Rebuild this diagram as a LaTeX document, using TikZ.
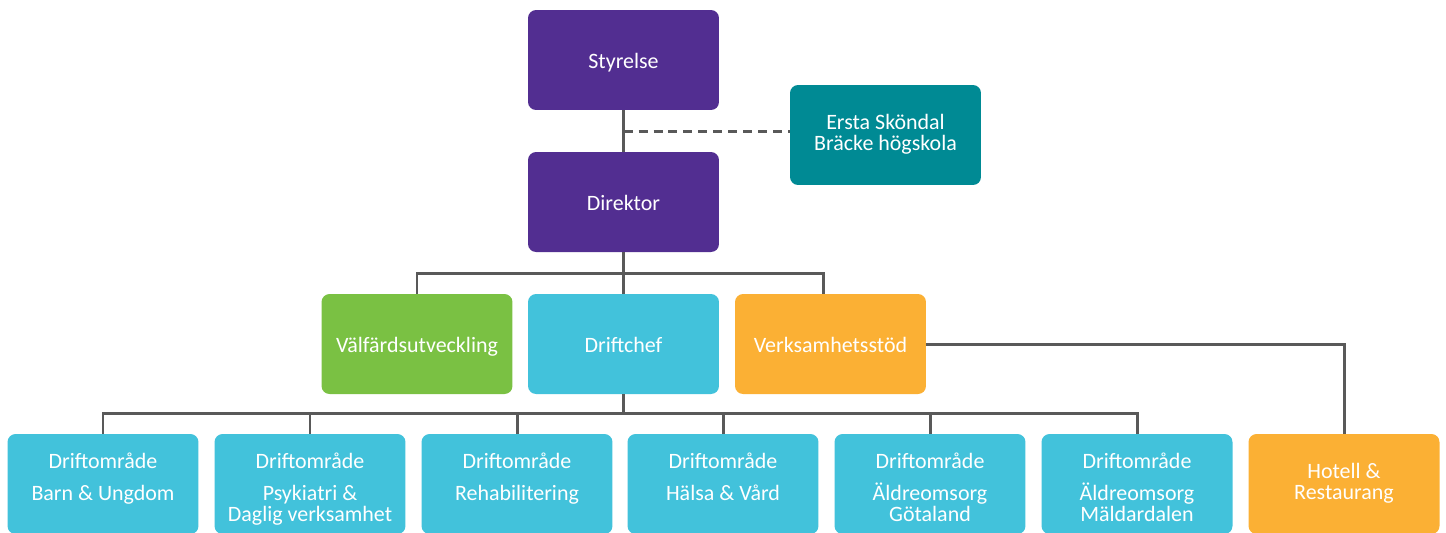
\documentclass[tikz,border=0pt]{standalone}
\usepackage{fontspec}
\setmainfont{Carlito}
\usetikzlibrary{calc}

\definecolor{lila}{RGB}{82,46,145}
\definecolor{petrol}{RGB}{0,138,148}
\definecolor{gron}{RGB}{122,193,67}
\definecolor{ljusbla}{RGB}{66,194,219}
\definecolor{gul}{RGB}{251,176,52}
\definecolor{linje}{RGB}{89,89,89}

\newcommand{\omrade}[1]{\parbox[t][1.4cm][t]{3.7cm}{\centering Driftområde\\[0.23cm]#1}}

\tikzset{
  box/.style={rounded corners=0.16cm, minimum width=3.82cm, minimum height=2cm,
    inner sep=0pt, text=white, align=center, font=\fontsize{12.5}{11.9}\selectfont,
    execute at begin node={\rule[-2.6pt]{0pt}{15.4pt}}},
  link/.style={draw=linje, line width=1.7pt},
}

\begin{document}
\begin{tikzpicture}[x=0.02cm, y=-0.02cm]
    \useasboundingbox (0,0) rectangle (1446,532);
    \clip (0,0) rectangle (1446,532);

    \node[box, fill=lila] (STY) at (623.5,60) {Styrelse};
    \node[box, fill=petrol] (ESB) at (885.5,135) {Ersta Sköndal\\Bräcke högskola};
    \node[box, fill=lila] (DIR) at (623.5,202) {Direktor};
    \node[box, fill=gron] (VAL) at (417,344) {Välfärdsutveckling};
    \node[box, fill=ljusbla] (DRC) at (623.5,344) {Driftchef};
    \node[box, fill=gul] (VST) at (830.5,344) {Verksamhetsstöd};
    \node[box, fill=ljusbla] (BU) at (103,484) {\omrade{Barn \& Ungdom}};
    \node[box, fill=ljusbla] (PD) at (310,484) {\omrade{Psykiatri \&\\Daglig verksamhet}};
    \node[box, fill=ljusbla] (RE) at (517,484) {\omrade{Rehabilitering}};
    \node[box, fill=ljusbla] (HV) at (723,484) {\omrade{Hälsa \& Vård}};
    \node[box, fill=ljusbla] (AG) at (930,484) {\omrade{Äldreomsorg\\Götaland}};
    \node[box, fill=ljusbla] (AM) at (1137,484) {\omrade{Äldreomsorg\\Mäldardalen}};
    \node[box, fill=gul] (HR) at (1344,484) {Hotell \&\\Restaurang};

    \coordinate (MID) at ($(STY.south)!0.5!(DIR.north)$);
    \draw[link] (STY) -- (DIR);
    \draw[link, dash pattern=on 0.18cm off 0.12cm] (MID) -- (MID -| ESB.west);

    \draw[link] (DIR) -- (DRC);
    \draw[link] (VAL.north) -- ++(0,-20) -| ([xshift=-0.15cm]VST.north);

    \draw[link] (DRC.south) -- ++(0,20);
    \draw[link] (BU.north) -- ++(0,-20) -| (AM.north);
    \foreach \n in {PD,RE,HV,AG}
        \draw[link] (\n.north) -- ++(0,-20);
    \draw[link] (VST.east) -| (HR.north);
\end{tikzpicture}
\end{document}
